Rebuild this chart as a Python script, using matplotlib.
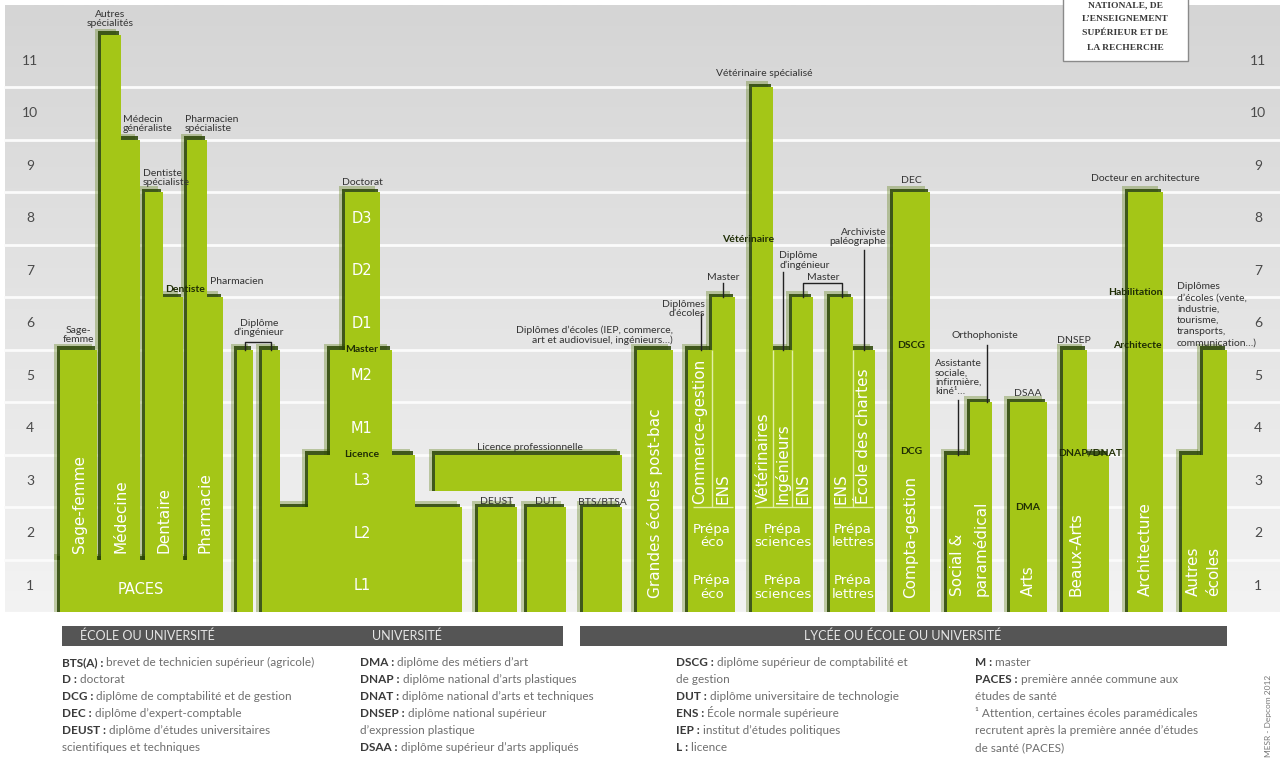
import numpy as np
import matplotlib
matplotlib.use('Agg')
import matplotlib.pyplot as plt
from matplotlib.colors import LinearSegmentedColormap
from matplotlib.patches import Rectangle

plt.rcParams['font.family'] = ['Lato', 'DejaVu Sans']

VERT = '#a4c617'
OMBRE = '#2a4504'
SOMBRE = '#1f2d05'
GRIS_TXT = '#333333'

# --- données : années d'études après le bac pour chaque segment de colonne ---
seg_debut = [0, 1, 1, 1, 1, 1, 1, 1,
             0, 0,
             0, 2, 3, 5,
             2.3, 0, 0, 0,
             0,
             0, 0,
             0, 0, 0,
             0, 0,
             0,
             0, 0,
             0,
             0, 0,
             0,
             0, 0]
seg_fin = [1, 5, 11, 9, 8, 6, 9, 6,
           5, 5,
           2, 3, 5, 8,
           3, 2, 2, 2,
           5,
           5, 6,
           10, 5, 6,
           6, 5,
           8,
           3, 4,
           4,
           5, 3,
           8,
           3, 5]

# --- mise en page horizontale des segments (px) ---
seg_gauche = [60, 60, 101, 121, 145, 163, 187, 207,
              237, 262,
              280, 308, 330, 345,
              435, 478, 527, 583,
              637,
              688, 712,
              752, 773, 792,
              830, 853,
              893,
              947, 970,
              1010,
              1063, 1087,
              1128,
              1182, 1203]
seg_droite = [223, 97, 121, 140, 163, 183, 207, 223,
              253, 280,
              462, 415, 392, 380,
              622, 517, 566, 622,
              673,
              712, 735,
              773, 792, 813,
              853, 875,
              930,
              970, 992,
              1047,
              1087, 1109,
              1163,
              1203, 1227]

annees = list(range(1, 12))
niveaux_univ = ['L1', 'L2', 'L3', 'M1', 'M2', 'D1', 'D2', 'D3']

# étiquettes au-dessus des colonnes : texte, x, année, alignement
etiquettes = [
    ("Autres\nspécialités", 110, 11.29, 'center'),
    ("Médecin\ngénéraliste", 123, 9.3, 'left'),
    ("Dentiste\nspécialiste", 143, 8.27, 'left'),
    ("Pharmacien\nspécialiste", 185, 9.3, 'left'),
    ("Pharmacien", 210, 6.29, 'left'),
    ("Sage-\nfemme", 78, 5.28, 'center'),
    ("Diplôme\nd’ingénieur", 259, 5.41, 'center'),
    ("Doctorat", 362, 8.19, 'center'),
    ("Diplômes d’écoles (IEP, commerce,\nart et audiovisuel, ingénieurs…)", 673, 5.27, 'right'),
    ("Licence professionnelle", 530, 3.13, 'center'),
    ("DEUST", 497, 2.1, 'center'),
    ("DUT", 546, 2.1, 'center'),
    ("BTS/BTSA", 602, 2.1, 'center'),
    ("Diplômes\nd’écoles", 705, 5.77, 'right'),
    ("Master", 723, 6.38, 'center'),
    ("Vétérinaire spécialisé", 764, 10.25, 'center'),
    ("Diplôme\nd’ingénieur", 779, 6.7, 'left'),
    ("Master", 823, 6.38, 'center'),
    ("Archiviste\npaléographe", 886, 7.14, 'right'),
    ("DEC", 911, 8.21, 'center'),
    ("Orthophoniste", 985, 5.26, 'center'),
    ("Assistante\nsociale,\ninfirmière,\nkiné¹…", 935, 4.46, 'left'),
    ("DSAA", 1028, 4.17, 'center'),
    ("DNSEP", 1074, 5.18, 'center'),
    ("Docteur en architecture", 1145, 8.25, 'center'),
]
autres_ecoles_lignes = ["Diplômes", "d’écoles (vente,", "industrie,", "tourisme,",
                        "transports,", "communication…)"]

# étiquettes foncées posées sur les colonnes
etiquettes_sombres = [
    ("Dentiste", 165, 6.15, 'left'),
    ("Vétérinaire", 774, 7.09, 'right'),
    ("Master", 362, 5.0, 'center'),
    ("Licence", 362, 3.0, 'center'),
    ("DSCG", 911, 5.07, 'center'),
    ("DCG", 911, 3.05, 'center'),
    ("DMA", 1028, 2.0, 'center'),
    ("DNAP/DNAT", 1090, 3.03, 'center'),
    ("Habilitation", 1163, 6.08, 'right'),
    ("Architecte", 1162, 5.07, 'right'),
]
# noms des filières (verticaux, blancs)
filieres = [
    ("Sage-femme", 79, 1.12), ("Médecine", 121, 1.12), ("Dentaire", 164, 1.12),
    ("Pharmacie", 205, 1.12), ("Grandes écoles post-bac", 655, 0.27),
    ("Commerce-gestion", 700, 2.06), ("ENS", 723, 2.06),
    ("Vétérinaires", 763, 2.06), ("Ingénieurs", 782, 2.06), ("ENS", 803, 2.06),
    ("ENS", 841, 2.06), ("École des chartes", 864, 2.06),
    ("Compta-gestion", 911, 0.27), ("Social &", 958, 0.3), ("paramédical", 981, 0.3),
    ("Arts", 1028, 0.3), ("Beaux-Arts", 1076, 0.3), ("Architecture", 1145, 0.3),
    ("Autres", 1193, 0.3), ("écoles", 1214, 0.3),
]
prepas = [("Prépa\néco", 712), ("Prépa\nsciences", 783), ("Prépa\nlettres", 853)]

legende = [
    [("BTS(A)", "brevet de technicien supérieur (agricole)"), ("D", "doctorat"),
     ("DCG", "diplôme de comptabilité et de gestion"), ("DEC", "diplôme d’expert-comptable"),
     ("DEUST", "diplôme d’études universitaires"), (None, "scientifiques et techniques")],
    [("DMA", "diplôme des métiers d’art"), ("DNAP", "diplôme national d’arts plastiques"),
     ("DNAT", "diplôme national d’arts et techniques"), ("DNSEP", "diplôme national supérieur"),
     (None, "d’expression plastique"), ("DSAA", "diplôme supérieur d’arts appliqués")],
    [("DSCG", "diplôme supérieur de comptabilité et"), (None, "de gestion"),
     ("DUT", "diplôme universitaire de technologie"), ("ENS", "École normale supérieure"),
     ("IEP", "institut d’études politiques"), ("L", "licence")],
    [("M", "master"), ("PACES", "première année commune aux"), (None, "études de santé"),
     (None, "¹ Attention, certaines écoles paramédicales"),
     (None, "recrutent après la première année d’études"), (None, "de santé (PACES)")],
]

fig = plt.figure(figsize=(12.8, 7.58), dpi=100, facecolor='white')
ax = fig.add_axes([0, 146 / 758, 1, 612 / 758])
ax.axis('off')

# fond dégradé + lignes blanches entre les années
fond = LinearSegmentedColormap.from_list('fond', ['#f3f3f3', '#d5d5d5'])
ax.imshow(np.linspace(0, 1, 256).reshape(-1, 1), cmap=fond, aspect='auto',
          extent=(5, 1280, 0, 11.56), origin='lower', zorder=0)
ax.set_xlim(0, 1280)
ax.set_ylim(0, 612 / 52.5)
for n in annees[:-1]:
    ax.axhline(n, xmin=5 / 1280, color='#fbfbfb', lw=2, zorder=1)

# colonnes avec ombre portée floue
g = np.array(seg_gauche, dtype=float)
larg = np.array(seg_droite) - g
haut = np.array(seg_fin, dtype=float) - np.array(seg_debut)
for dx, dy, c, a in [(-6.5, 0.11, '#5d7f12', 0.35), (-3.5, 0.06, OMBRE, 0.85)]:
    ax.bar(g + dx, haut + dy, width=larg + 1, bottom=seg_debut, align='edge',
           color=c, alpha=a, lw=0, zorder=2)
ax.bar(g, haut, width=larg, bottom=seg_debut, align='edge', color=VERT, lw=0, zorder=3)

# séparateurs clairs dans les prépas
ax.vlines([712, 773, 792, 853], 2, 5, color='#e2efa6', lw=1, zorder=4)
ax.hlines([2, 2, 2], [693, 756, 834], [733, 811, 873], color='#e2efa6', lw=1, zorder=4)

# traits de rappel
noir = dict(color='#222222', lw=1, zorder=4)
ax.plot([245, 245, 271, 271], [5, 5.14, 5.14, 5], **noir)
ax.plot([701, 701], [5, 5.68], **noir)
ax.plot([723, 723], [6, 6.27], **noir)
ax.plot([783, 783], [5, 6.48], **noir)
ax.plot([803, 803, 842, 842], [6, 6.27, 6.27, 6], **noir)
ax.plot([864, 864], [5, 6.9], **noir)
ax.plot([987, 987], [4, 5.09], **noir)
ax.plot([958, 958], [3, 4.04], **noir)

# années à gauche et à droite
for n in annees:
    ax.text(30, n - 0.5, str(n), ha='center', va='center', fontsize=10, color='#4a4a4a', zorder=5)
    ax.text(1258, n - 0.5, str(n), ha='center', va='center', fontsize=10, color='#4a4a4a', zorder=5)

for txt, x, y, ha in etiquettes:
    ax.text(x, y, txt, ha=ha, va='center', fontsize=7.5, color=GRIS_TXT,
            linespacing=1.05, multialignment=ha, zorder=6)
for k, ligne in enumerate(autres_ecoles_lignes):
    ax.text(1177, 6.2 - k * 0.215, ligne, ha='left', va='center', fontsize=7.5,
            color=GRIS_TXT, zorder=6)
for txt, x, y, ha in etiquettes_sombres:
    ax.text(x, y, txt, ha=ha, va='center', fontsize=7.5, color=SOMBRE,
            fontweight='bold', zorder=6)

for txt, x, y in filieres:
    ax.text(x, y, txt, rotation=90, ha='center', va='bottom', color='white',
            fontsize=11, family='DejaVu Sans', zorder=6)
for i, niv in enumerate(niveaux_univ):
    ax.text(362, i + 0.5, niv, ha='center', va='center', color='white',
            fontsize=10.5, family='DejaVu Sans', zorder=6)
ax.text(141, 0.42, 'PACES', ha='center', va='center', color='white',
        fontsize=10.5, family='DejaVu Sans', zorder=6)
for txt, x in prepas:
    for y in (1.45, 0.47):
        ax.text(x, y, txt, ha='center', va='center', color='white', fontsize=9.5,
                family='DejaVu Sans', linespacing=1.05, zorder=6)

# --- surcouche en pixels : bandeaux, légende, logo ---
ov = fig.add_axes([0, 0, 1, 1], zorder=5)
ov.set_xlim(0, 1280)
ov.set_ylim(758, 0)
ov.axis('off')

ov.add_patch(Rectangle((62, 626), 501, 20, color='#555555', lw=0))
ov.add_patch(Rectangle((580, 626), 647, 20, color='#555555', lw=0))
ov.text(80, 636, 'ÉCOLE OU UNIVERSITÉ', ha='left', va='center', color='#e6e6e6', fontsize=9)
ov.text(407, 636, 'UNIVERSITÉ', ha='center', va='center', color='#e6e6e6', fontsize=9)
ov.text(903, 636, 'LYCÉE OU ÉCOLE OU UNIVERSITÉ', ha='center', va='center', color='#e6e6e6', fontsize=9)

col_x = [62, 360, 676, 975]
for cx, lignes in zip(col_x, legende):
    for k, (abr, defi) in enumerate(lignes):
        y = 668 + k * 17
        if abr is None:
            ov.text(cx, y, defi, ha='left', va='bottom', fontsize=8.5, color='#6e6e6e')
        else:
            t = ov.text(cx, y, abr + ' :', ha='left', va='bottom', fontsize=8.5,
                        color='#3a3a3a', fontweight='bold')
            ov.annotate(' ' + defi, xy=(1, 0), xycoords=t, ha='left', va='bottom',
                        fontsize=8.5, color='#6e6e6e')

ov.add_patch(Rectangle((1063, -2), 125, 63, facecolor='white', edgecolor='#8a8a8a', lw=1))
for k, ligne in enumerate(['NATIONALE, DE', 'L’ENSEIGNEMENT', 'SUPÉRIEUR ET DE', 'LA RECHERCHE']):
    ov.text(1125.5, 5 + k * 14.2, ligne, ha='center', va='center', fontsize=6.8,
            family='Liberation Serif', fontweight='bold', color='#3a3a3a')

ov.text(1268, 716, 'MESR - Depcom 2012', rotation=90, ha='center', va='center',
        fontsize=6, color='#777777')

fig.savefig('out.png', dpi=100, facecolor='white')
